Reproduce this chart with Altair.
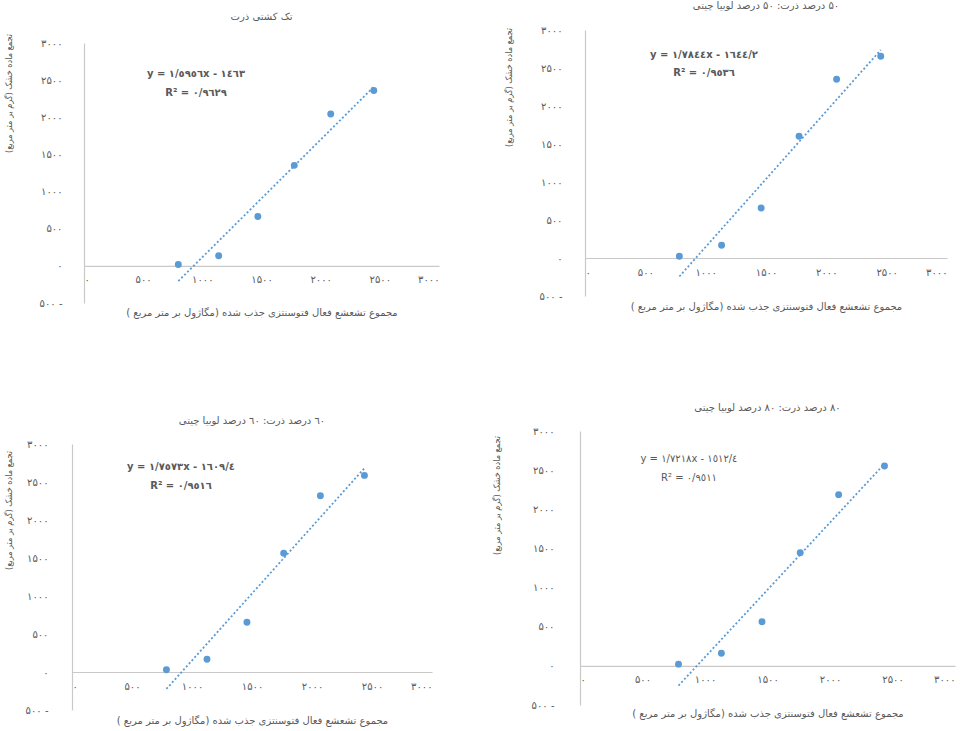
import altair as alt
import pandas as pd

RLM = "\u200f"

# ---------------- data ----------------
panel_titles = [
    RLM + "تک کشتی  ذرت",
    RLM + "۵۰ درصد ذرت: ۵۰ درصد لوبیا چیتی",
    RLM + "٦٠ درصد ذرت: ٦٠ درصد لوبیا چیتی",
    RLM + "۸۰ درصد ذرت: ۸۰ درصد لوبیا چیتی",
]
x_title = RLM + "مجموع تشعشع فعال فتوسنتزی جذب  شده (مگاژول بر متر مربع )" + RLM
y_title = RLM + "تجمع ماده خشک (گرم بر متر مربع)" + RLM

par_1 = [797, 1138, 1469, 1777, 2085, 2449]
dm_1 = [18, 136, 665, 1353, 2045, 2361]
par_2 = [782, 1132, 1460, 1774, 2085, 2451]
dm_2 = [22, 167, 657, 1603, 2352, 2655]
par_3 = [787, 1125, 1458, 1764, 2070, 2437]
dm_3 = [30, 167, 655, 1564, 2319, 2587]
par_4 = [788, 1131, 1456, 1762, 2069, 2436]
dm_4 = [22, 162, 563, 1445, 2187, 2554]

eq_texts = [
    "y = ١/٥٩٥٦x - ١٤٦٣",
    "y = ١/٧٨٤٤x - ١٦٤٤/٢",
    "y = ١/٧٥٧٣x - ١٦٠٩/٤",
    "y = ١/٧٢١٨x - ١٥١٢/٤",
]
r2_texts = ["R² = ٠/٩٦٢٩", "R² = ٠/٩٥٣٦", "R² = ٠/٩٥١٦", "R² = ٠/٩٥١١"]

x_ticks = [0, 500, 1000, 1500, 2000, 2500, 3000]
x_tick_labels = ["۰", "۵۰۰", "۱۰۰۰", "۱۵۰۰", "۲۰۰۰", "۲۵۰۰", "۳۰۰۰"]
y_ticks = [-500, 0, 500, 1000, 1500, 2000, 2500, 3000]
y_tick_labels = ["۵۰۰ -", "۰", "۵۰۰", "۱۰۰۰", "۱۵۰۰", "۲۰۰۰", "۲۵۰۰", "۳۰۰۰"]

# ---------------- style ----------------
BLUE = "#5B9BD5"
GRAY_TXT = "#595959"
AXIS_LINE = "#C9C9C9"
FONT = "DejaVu Sans"
FONT_COND = "DejaVu Sans Condensed"
ROW_GAP = 92
COL_GAP = 60


def label_expr(vals, labels):
    expr = "''"
    for v, l in reversed(list(zip(vals, labels))):
        expr = f"datum.value == {v} ? '{l}' : ({expr})"
    return expr


def panel(i, px, dm, w, h, title_lines, title_lh, title_off, ylab_pad, ytitle_pad,
          ytitle_y, xtitle_pad, eq_pos, bold):
    df = pd.DataFrame({"x": px, "y": dm})
    xs = alt.Scale(domain=[0, 3000], nice=False, zero=False)
    ys = alt.Scale(domain=[-500, 3000], nice=False, zero=False)
    xaxis = alt.Axis(
        values=x_ticks, labelExpr=label_expr(x_ticks, x_tick_labels),
        offset=-h / 7.0, domainColor=AXIS_LINE, domainWidth=1.2, ticks=False, grid=False,
        labelPadding=9, labelFontSize=10, labelColor=GRAY_TXT, labelFont=FONT,
        title=x_title, titleFontSize=10, titleColor=GRAY_TXT, titleFont=FONT,
        titleFontWeight="normal", titlePadding=xtitle_pad, labelOverlap=False,
    )
    yaxis = alt.Axis(
        values=y_ticks, labelExpr=label_expr(y_ticks, y_tick_labels),
        domainColor=AXIS_LINE, domainWidth=1.2, ticks=False, grid=False,
        labelPadding=ylab_pad, labelFontSize=10, labelColor=GRAY_TXT, labelFont=FONT,
        title=y_title, titleFontSize=9, titleColor=GRAY_TXT, titleFont=FONT_COND,
        titleFontWeight="normal", titlePadding=ytitle_pad, titleY=ytitle_y,
        labelOverlap=False,
    )
    base = alt.Chart(df)
    pts = base.mark_circle(size=48, color=BLUE, opacity=1).encode(
        x=alt.X("x:Q", scale=xs, axis=xaxis),
        y=alt.Y("y:Q", scale=ys, axis=yaxis),
    )
    trend = base.transform_regression("x", "y").mark_line(
        color=BLUE, strokeDash=[2, 2.2], strokeWidth=1.8
    ).encode(x=alt.X("x:Q", scale=xs, axis=xaxis), y=alt.Y("y:Q", scale=ys, axis=yaxis))
    ann = alt.Chart(pd.DataFrame({"t": [eq_texts[i], r2_texts[i]], "k": [0, 1]}))
    eq = ann.transform_filter("datum.k == 0").mark_text(
        fontSize=10, font=FONT, fontWeight="bold" if bold else "normal", color=GRAY_TXT
    ).encode(x=alt.value(eq_pos[0]), y=alt.value(eq_pos[1]), text="t:N")
    r2 = ann.transform_filter("datum.k == 1").mark_text(
        fontSize=10, font=FONT, fontWeight="bold" if bold else "normal", color=GRAY_TXT
    ).encode(x=alt.value(eq_pos[0]), y=alt.value(eq_pos[2]), text="t:N")
    return alt.layer(pts, trend, eq, r2).properties(
        width=w, height=h,
        title=alt.TitleParams(
            text=title_lines, fontSize=10, font=FONT, color=GRAY_TXT,
            fontWeight="normal", anchor="middle", lineHeight=title_lh, offset=title_off,
            frame="group",
        ),
    )


def spacer():
    # invisible 1x1 cell used only to let the real panels be placed by their own bounds
    return alt.Chart(pd.DataFrame({"v": [0]})).mark_point(opacity=0, size=1).encode(
        x=alt.value(0), y=alt.value(0)
    ).properties(width=1, height=1)


p1 = panel(0, par_1, dm_1, 355, 260, ["", panel_titles[0]], 11, 11, 22, 26, 50, 23, (112, 31, 50), True)
p2 = panel(1, par_2, dm_2, 362, 266, [panel_titles[1]], 10, 14, 23, 26, 57, 24, (119, 25, 43), True)
p3 = panel(2, par_3, dm_3, 360, 266, [panel_titles[2]], 10, 13, 24, 12, 66, 24, (109, 23, 42), True)
p4 = panel(3, par_4, dm_4, 375, 274, [panel_titles[3]], 10, 13, 26, 30, 64, 24, (109, 28, 47), False)

chart = alt.concat(
    spacer(), spacer(), spacer(),
    spacer(), p1, p2,
    spacer(), p3, p4,
    columns=3, align="none", bounds="full",
    spacing={"row": ROW_GAP, "column": COL_GAP},
).properties(
    padding={"left": -(1 + COL_GAP) + 3, "top": -(1 + ROW_GAP), "right": 2, "bottom": 2}
).configure(font=FONT, background="white").configure_view(strokeWidth=0, stroke="transparent")

chart.save("out.html", embed_options={"renderer": "svg", "actions": False})
